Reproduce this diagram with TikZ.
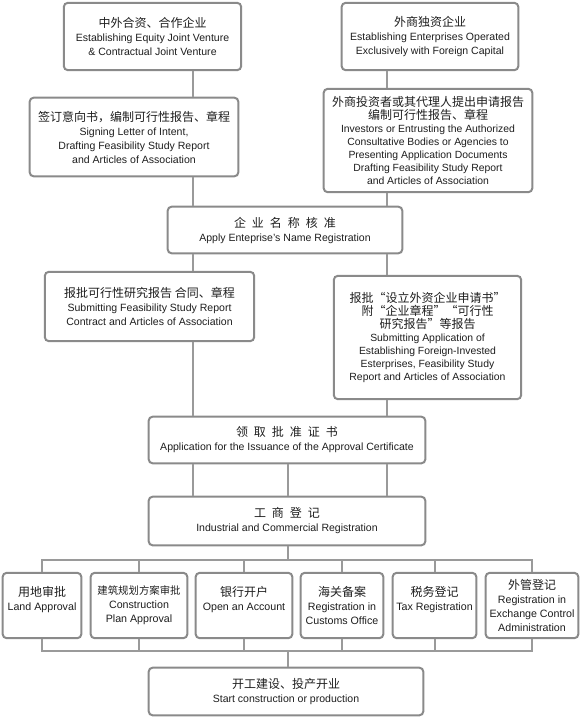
\documentclass[tikz,border=0pt]{standalone}
\usepackage{fontspec}
\setmainfont{Liberation Sans}
\newfontfamily\cjk{Noto Sans CJK SC}
\usetikzlibrary{calc}
\usepackage{xcolor}
\definecolor{boxgray}{HTML}{8A8A8A}
\definecolor{linegray}{HTML}{9A9A9A}
\definecolor{inkgray}{HTML}{1E1E1E}
\newcommand\zh[1]{{\cjk\fontsize{9}{12}\selectfont #1}}

\begin{document}
\begin{tikzpicture}[x=0.75pt, y=-0.75pt, font=\fontsize{7.9}{10.5}\selectfont,
    box/.style={draw=boxgray, line width=1.5pt, rounded corners=3pt, fill=white,
      text=inkgray, align=center, inner sep=2pt},
    rowbox/.style={box, minimum height=49pt, font=\fontsize{8}{10.5}\selectfont},
    link/.style={draw=linegray, line width=1.5pt}]
  \useasboundingbox (0,0) rectangle (580,718);
  \coordinate (colL) at (193,0);
  \coordinate (colM) at (288,0);
  \coordinate (colR) at (387,0);
  \coordinate (busT) at (0,560);
  \coordinate (busB) at (0,651);

  \node[box, minimum width=133pt, minimum height=50.5pt] (jv) at (152.5,36.5)
    {\zh{中外合资、合作企业}\\Establishing Equity Joint Venture\\\& Contractual Joint Venture};
  \node[box, minimum width=132.5pt, minimum height=50.5pt] (wfoe) at (430,36.5)
    {\zh{外商独资企业}\\Establishing Enterprises Operated\\Exclusively with Foreign Capital};
  \node[box, minimum width=156.5pt, minimum height=59pt] (intent) at (134,137)
    {\zh{签订意向书，编制可行性报告、章程}\\Signing Letter of Intent,\\Drafting Feasibility Study Report\\and Articles of Association};
  \node[box, minimum width=156.5pt, minimum height=77.5pt, font=\fontsize{7.8}{9.8}\selectfont] (agent) at (428,140.5)
    {\zh{外商投资者或其代理人提出申请报告}\\\zh{编制可行性报告、章程}\\Investors or Entrusting the Authorized\\Consultative Bodies or Agencies to\\Presenting Application Documents\\Drafting Feasibility Study Report\\and Articles of Association};
  \node[box, minimum width=176pt, minimum height=35pt] (name) at (285,230)
    {\zh{企\enspace 业\enspace 名\enspace 称\enspace 核\enspace 准}\\Apply Enteprise's Name Registration};
  \node[box, minimum width=157pt, minimum height=52pt] (study) at (149.5,306.5)
    {\zh{报批可行性研究报告 合同、章程}\\Submitting Feasibility Study Report\\Contract and Articles of Association};
  \node[box, minimum width=140.5pt, minimum height=92.5pt, font=\fontsize{7.8}{9.8}\selectfont] (submit) at (427.5,337.5)
    {\zh{报批“设立外资企业申请书”}\\\zh{附“企业章程”“可行性}\\\zh{研究报告”等报告}\\Submitting Application of\\Establishing Foreign-Invested\\Esterprises, Feasibility Study\\Report and Articles of Association};
  \node[box, minimum width=207.5pt, minimum height=35pt] (cert) at (287,440)
    {\zh{领\enspace 取\enspace 批\enspace 准\enspace 证\enspace 书}\\Application for the Issuance of the Approval Certificate};
  \node[box, minimum width=207.5pt, minimum height=36.5pt] (reg) at (287,521)
    {\zh{工\enspace 商\enspace 登\enspace 记}\\Industrial and Commercial Registration};

  \node[rowbox, minimum width=59pt] (land) at (42,605.5)
    {\zh{用地审批}\\Land Approval\\\mbox{}};
  \node[rowbox, minimum width=72.5pt] (plan) at (139,605.5)
    {{\cjk\fontsize{7.8}{10}\selectfont 建筑规划方案审批}\\Construction\\Plan Approval};
  \node[rowbox, minimum width=72.5pt] (bank) at (244,605.5)
    {\zh{银行开户}\\Open an Account\\\mbox{}};
  \node[rowbox, minimum width=62pt] (customs) at (342,605.5)
    {\zh{海关备案}\\Registration in\\Customs Office};
  \node[rowbox, minimum width=62.75pt] (tax) at (434.5,605.5)
    {\zh{税务登记}\\Tax Registration\\\mbox{}};
  \node[rowbox, minimum width=69.5pt] (forex) at (532,605.5)
    {\zh{外管登记}\\Registration in\\Exchange Control\\Administration};

  \node[box, minimum width=206pt, minimum height=35.75pt] (start) at (286,691.5)
    {\zh{开工建设、投产开业}\\Start construction or production};

  \draw[link] (jv.south -| colL) -- (intent.north -| colL);
  \draw[link] (intent.south -| colL) -- (name.north -| colL);
  \draw[link] (name.south -| colL) -- (study.north -| colL);
  \draw[link] (study.south -| colL) -- (cert.north -| colL);
  \draw[link] (wfoe.south -| colR) -- (agent.north -| colR);
  \draw[link] (agent.south -| colR) -- (name.north -| colR);
  \draw[link] (name.south -| colR) -- (submit.north -| colR);
  \draw[link] (submit.south -| colR) -- (cert.north -| colR);
  \foreach \c in {colL,colM,colR}
    \draw[link] (cert.south -| \c) -- (reg.north -| \c);

  \draw[link] (reg.south -| colM) -- (busT -| colM);
  \draw[link] (land.north) -- (land.north |- busT) -- (forex.north |- busT) -- (forex.north);
  \draw[link] (land.south) -- (land.south |- busB) -- (forex.south |- busB) -- (forex.south);
  \foreach \n in {plan,bank,customs,tax}{
    \draw[link] (\n.north) -- (\n.north |- busT);
    \draw[link] (\n.south) -- (\n.south |- busB);
  }
  \draw[link] (busB -| colM) -- (start.north -| colM);
\end{tikzpicture}
\end{document}
